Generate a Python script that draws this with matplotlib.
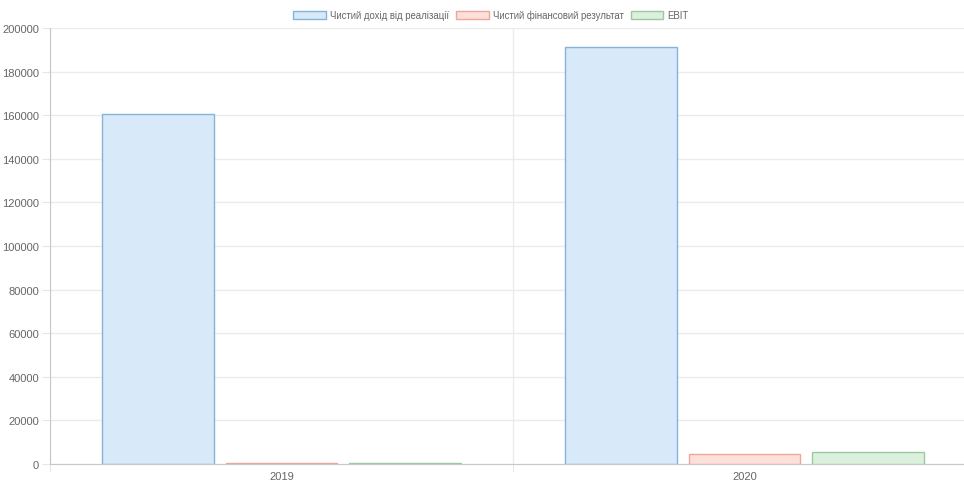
import numpy as np
import matplotlib.pyplot as plt
from matplotlib.patches import Patch

plt.rcParams['font.family'] = ['Liberation Sans', 'DejaVu Sans']

years = ['2019', '2020']
labels = ['Чистий дохід від реалізації', 'Чистий фінансовий результат', 'EBIT']
revenue = [160600, 191300]
net_result = [350, 4600]
ebit = [500, 5500]

fills = ['#d8e9f9', '#fde0da', '#dcf0de']
edges = ['#86b3d9', '#eea69a', '#9cc9a2']

fig = plt.figure(figsize=(9.64, 4.81), dpi=100)
ax = fig.add_axes([50 / 964, 16 / 481, 926 / 964, 436 / 481])

x = np.arange(len(years))
slot = 0.8 / 3
width = slot * 0.9
for i, vals in enumerate([revenue, net_result, ebit]):
    ax.bar(x + (i - 1) * slot, vals, width, color=fills[i], edgecolor=edges[i], linewidth=1, zorder=3)

ax.set_xlim(-0.5, 1.5)
ax.set_ylim(0, 200000)
ax.set_yticks(np.arange(0, 200001, 20000))
ax.set_xticks(x)
ax.set_xticklabels(years)
ax.set_xticks([-0.5, 0.5, 1.5], minor=True)
ax.tick_params(axis='x', which='major', length=0, pad=5, labelsize=8, colors='#666666')
ax.tick_params(axis='x', which='minor', length=6, color='#e0e0e0')
ax.tick_params(axis='y', length=6, color='#e6e6e6', labelsize=8, labelcolor='#666666', pad=2)
ax.grid(axis='y', color='#ebebeb', linewidth=1, zorder=0)
ax.grid(axis='x', which='minor', color='#ebebeb', linewidth=1, zorder=0)
for s in ['top', 'right']:
    ax.spines[s].set_visible(False)
ax.spines['left'].set_color('#c8c8c8')
ax.spines['bottom'].set_color('#c8c8c8')

handles = [Patch(facecolor=fills[i], edgecolor=edges[i], linewidth=1) for i in range(3)]
fig.legend(handles, labels, loc='center', bbox_to_anchor=(491 / 964, 1 - 16 / 481), ncol=3, frameon=False,
           fontsize=6.9, labelcolor='#666666', handlelength=3.4, handleheight=1.0,
           handletextpad=0.45, columnspacing=0.7)

fig.savefig('out.png', dpi=100)
